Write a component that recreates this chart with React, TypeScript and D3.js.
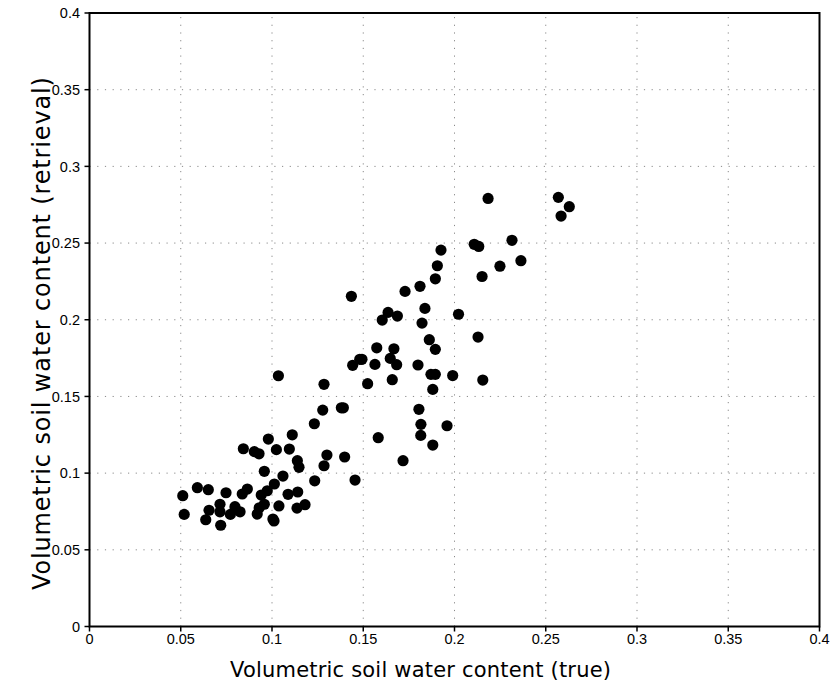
import React from "react";
import * as d3 from "d3";

const trueVals: number[] = [
  0.0511, 0.0519, 0.0591, 0.0651, 0.0637, 0.0655, 0.0748, 0.0715, 0.0715, 0.0719,
  0.0772, 0.0797, 0.0825, 0.0837, 0.0865, 0.0843, 0.0903, 0.0929, 0.0919, 0.093,
  0.0958, 0.0941, 0.0974, 0.0958, 0.098, 0.1005, 0.1011, 0.1013, 0.1024, 0.1038,
  0.1035, 0.106, 0.1088, 0.1095, 0.1111, 0.1139, 0.1148, 0.1141, 0.1137, 0.1181,
  0.1232, 0.1234, 0.1278, 0.1285, 0.1285, 0.1301, 0.138, 0.1391, 0.1398, 0.1435,
  0.1442, 0.1455, 0.1481, 0.1493, 0.1524, 0.1564, 0.1574, 0.1582, 0.1604, 0.1636,
  0.1648, 0.1659, 0.1668, 0.1687, 0.1683, 0.1718, 0.1729, 0.18, 0.1805, 0.1811,
  0.1816, 0.1815, 0.1822, 0.1838, 0.1862, 0.1871, 0.1895, 0.1881, 0.1881, 0.1895,
  0.1895, 0.1906, 0.1926, 0.1959, 0.199, 0.2022, 0.2108, 0.2133, 0.2129, 0.2151,
  0.2155, 0.2184, 0.2249, 0.2315, 0.2364, 0.2569, 0.2584, 0.2629,
];

const retrievalVals: number[] = [
  0.0853, 0.0731, 0.0905, 0.0892, 0.0696, 0.0758, 0.0872, 0.0797, 0.0748, 0.066,
  0.0731, 0.0781, 0.0748, 0.0864, 0.0896, 0.1159, 0.114, 0.1126, 0.0733, 0.0774,
  0.0797, 0.0857, 0.0885, 0.1012, 0.1222, 0.0701, 0.0688, 0.0929, 0.1153, 0.0786,
  0.1635, 0.0981, 0.0862, 0.1157, 0.125, 0.1081, 0.1038, 0.0877, 0.0772, 0.0794,
  0.1322, 0.095, 0.1411, 0.1579, 0.1048, 0.1118, 0.1426, 0.1426, 0.1105, 0.2153,
  0.1703, 0.0955, 0.1742, 0.1742, 0.1583, 0.1709, 0.1817, 0.1231, 0.1998, 0.2048,
  0.1748, 0.1609, 0.1811, 0.2024, 0.1707, 0.1081, 0.2185, 0.1705, 0.1416, 0.2218,
  0.1318, 0.1246, 0.1978, 0.2074, 0.187, 0.1644, 0.1644, 0.1546, 0.1183, 0.2267,
  0.1807, 0.2352, 0.2454, 0.1309, 0.1636, 0.2036, 0.2492, 0.2478, 0.1887, 0.2282,
  0.1607, 0.2791, 0.2349, 0.2518, 0.2385, 0.2798, 0.2676, 0.2737,
];

const xTicks: number[] = [0, 0.05, 0.1, 0.15, 0.2, 0.25, 0.3, 0.35, 0.4];
const yTicks: number[] = [0, 0.05, 0.1, 0.15, 0.2, 0.25, 0.3, 0.35, 0.4];
const xTickLabels: string[] = ["0", "0.05", "0.1", "0.15", "0.2", "0.25", "0.3", "0.35", "0.4"];
const yTickLabels: string[] = ["0", "0.05", "0.1", "0.15", "0.2", "0.25", "0.3", "0.35", "0.4"];
const xTitle = "Volumetric soil water content (true)";
const yTitle = "Volumetric soil water content (retrieval)";

export default function App() {
  const W = 830, H = 689;
  const x = d3.scaleLinear().domain([0, 0.4]).range([89.5, 819.5]);
  const y = d3.scaleLinear().domain([0, 0.4]).range([626.5, 13]);
  const points = trueVals.map((t, i) => ({ t, r: retrievalVals[i] }));
  const tickFont = "'Liberation Sans', Arial, sans-serif";
  const titleFont = "'DejaVu Sans', sans-serif";
  const [x0, x1] = x.range();
  const [y0, y1] = y.range();
  return (
    <svg width={W} height={H} style={{ position: "absolute", left: 0, top: 0, background: "#fff" }}>
      <rect x={0} y={0} width={W} height={H} fill="#fff" />
      {/* grid */}
      {xTicks.slice(1, -1).map((v, i) => (
        <line key={"gx" + i} x1={x(v)} x2={x(v)} y1={y0} y2={y1} stroke="#8a8a8a" strokeWidth={1} strokeDasharray="1.2,6.5" />
      ))}
      {yTicks.slice(1, -1).map((v, i) => (
        <line key={"gy" + i} x1={x0} x2={x1} y1={y(v)} y2={y(v)} stroke="#8a8a8a" strokeWidth={1} strokeDasharray="1.2,6.5" />
      ))}
      {/* points */}
      {points.map((p, i) => (
        <circle key={"p" + i} cx={x(p.t)} cy={y(p.r)} r={5.6} fill="#000" />
      ))}
      {/* frame */}
      <rect x={x0} y={y1} width={x1 - x0} height={y0 - y1} fill="none" stroke="#000" strokeWidth={2} />
      {/* ticks */}
      {xTicks.map((v, i) => (
        <g key={"xt" + i}>
          <line x1={x(v)} x2={x(v)} y1={y0} y2={y0 + 5} stroke="#000" strokeWidth={1.5} />
          <text x={x(v)} y={y0 + 17} textAnchor="middle" fontFamily={tickFont} fontSize={14.5} fill="#000">
            {xTickLabels[i]}
          </text>
        </g>
      ))}
      {yTicks.map((v, i) => (
        <g key={"yt" + i}>
          <line x1={x0 - 5} x2={x0} y1={y(v)} y2={y(v)} stroke="#000" strokeWidth={1.5} />
          <text x={x0 - 9.5} y={y(v) + 5.2} textAnchor="end" fontFamily={tickFont} fontSize={14.5} fill="#000">
            {yTickLabels[i]}
          </text>
        </g>
      ))}
      {/* titles */}
      <text x={230} y={677} fontFamily={titleFont} fontSize={21} fill="#000" textLength={381} lengthAdjust="spacing">
        {xTitle}
      </text>
      <text transform={`translate(50,590) rotate(-90)`} x={0} y={0} fontFamily={titleFont} fontSize={24} fill="#000" textLength={513} lengthAdjust="spacing">
        {yTitle}
      </text>
    </svg>
  );
}
